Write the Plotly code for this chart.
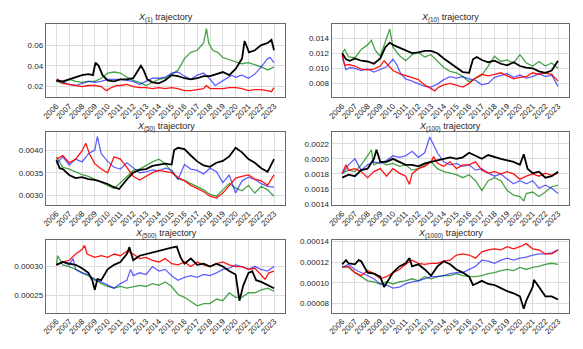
import plotly.graph_objects as go

# -----------------------------
# Data: (year, value) pairs
# -----------------------------
YEARS = [2006, 2007, 2008, 2009, 2010, 2011, 2012, 2013, 2014,
         2015, 2016, 2017, 2018, 2019, 2020, 2021, 2022, 2023]
YEAR_LABELS = [str(y) for y in YEARS]

# X(1)
P1_BLACK = [(2006.0, 0.026), (2006.5, 0.025), (2007.0, 0.027), (2007.5, 0.029), (2008.0, 0.031), (2008.5, 0.032),
            (2008.85, 0.031), (2009.05, 0.043), (2009.3, 0.040), (2009.6, 0.031), (2010.0, 0.026), (2010.5, 0.025),
            (2011.0, 0.027), (2011.5, 0.027), (2012.0, 0.028), (2012.3, 0.034), (2012.6, 0.040), (2012.8, 0.036),
            (2013.1, 0.027), (2013.5, 0.024), (2014.0, 0.023), (2014.5, 0.026), (2015.0, 0.031), (2015.5, 0.030),
            (2016.0, 0.028), (2016.5, 0.027), (2017.0, 0.028), (2017.5, 0.030), (2018.0, 0.030), (2018.5, 0.032),
            (2019.0, 0.034), (2019.5, 0.031), (2020.0, 0.037), (2020.5, 0.047), (2020.7, 0.064), (2021.05, 0.053),
            (2021.5, 0.055), (2022.0, 0.060), (2022.5, 0.062), (2022.8, 0.065), (2023.0, 0.055)]
P1_BLUE = [(2006.0, 0.026), (2006.5, 0.024), (2007.0, 0.022), (2007.5, 0.021), (2008.0, 0.023), (2008.5, 0.025),
           (2009.0, 0.024), (2009.5, 0.025), (2010.0, 0.027), (2010.5, 0.027), (2011.0, 0.027), (2011.5, 0.026),
           (2012.0, 0.025), (2012.5, 0.022), (2013.0, 0.025), (2013.5, 0.028), (2014.0, 0.028), (2014.5, 0.029),
           (2015.0, 0.033), (2015.5, 0.034), (2016.0, 0.030), (2016.5, 0.027), (2017.0, 0.031), (2017.5, 0.033),
           (2018.0, 0.027), (2018.4, 0.021), (2018.8, 0.024), (2019.3, 0.028), (2019.7, 0.031), (2020.0, 0.029),
           (2020.5, 0.031), (2021.0, 0.028), (2021.5, 0.032), (2022.0, 0.039), (2022.5, 0.047), (2022.7, 0.048),
           (2023.0, 0.043)]
P1_GREEN = [(2006.0, 0.025), (2006.5, 0.023), (2007.0, 0.027), (2007.5, 0.025), (2008.0, 0.024), (2008.5, 0.025),
            (2009.0, 0.025), (2009.5, 0.028), (2010.0, 0.033), (2010.5, 0.034), (2011.0, 0.033), (2011.5, 0.029),
            (2012.0, 0.026), (2012.5, 0.024), (2013.0, 0.021), (2013.5, 0.024), (2014.0, 0.027), (2014.5, 0.028),
            (2015.0, 0.032), (2015.5, 0.036), (2016.0, 0.047), (2016.5, 0.053), (2017.0, 0.055), (2017.5, 0.062),
            (2017.72, 0.076), (2017.9, 0.062), (2018.2, 0.055), (2018.6, 0.053), (2019.0, 0.048), (2019.5, 0.046),
            (2020.0, 0.044), (2020.5, 0.042), (2021.0, 0.043), (2021.5, 0.041), (2022.0, 0.039), (2022.5, 0.036),
            (2023.0, 0.039)]
P1_RED = [(2006.0, 0.025), (2006.1, 0.027), (2006.5, 0.023), (2007.0, 0.022), (2007.5, 0.021), (2008.0, 0.020),
          (2008.5, 0.021), (2009.0, 0.021), (2009.5, 0.020), (2009.9, 0.016), (2010.3, 0.019), (2010.7, 0.021),
          (2011.0, 0.021), (2011.5, 0.022), (2012.0, 0.020), (2012.5, 0.019), (2013.0, 0.019), (2013.5, 0.018),
          (2014.0, 0.019), (2014.5, 0.018), (2015.0, 0.019), (2015.5, 0.018), (2016.0, 0.016), (2016.5, 0.016),
          (2017.0, 0.017), (2017.5, 0.018), (2017.7, 0.021), (2018.0, 0.018), (2018.5, 0.018), (2019.0, 0.018),
          (2019.5, 0.019), (2020.0, 0.019), (2020.5, 0.018), (2021.0, 0.016), (2021.5, 0.017), (2022.0, 0.017),
          (2022.5, 0.016), (2022.8, 0.015), (2023.0, 0.019)]

# X(10)
P2_BLACK = [(2006.0, 0.0120), (2006.3, 0.0112), (2006.6, 0.0110), (2007.0, 0.0113), (2007.5, 0.0110), (2008.0, 0.0109),
            (2008.5, 0.0106), (2009.0, 0.0113), (2009.4, 0.0128), (2009.75, 0.0134), (2010.0, 0.0131), (2010.5, 0.0127),
            (2011.0, 0.0124), (2011.5, 0.0120), (2012.0, 0.0121), (2012.5, 0.0123), (2013.0, 0.0123), (2013.5, 0.0120),
            (2014.0, 0.0113), (2014.5, 0.0107), (2015.0, 0.0102), (2015.5, 0.0095), (2016.0, 0.0094), (2016.3, 0.0112),
            (2016.6, 0.0115), (2017.0, 0.0111), (2017.5, 0.0108), (2018.0, 0.0110), (2018.5, 0.0106), (2019.0, 0.0104),
            (2019.5, 0.0108), (2020.0, 0.0103), (2020.5, 0.0101), (2021.0, 0.0100), (2021.5, 0.0096), (2022.0, 0.0094),
            (2022.5, 0.0097), (2023.0, 0.0110)]
P2_GREEN = [(2006.0, 0.0120), (2006.2, 0.0125), (2006.5, 0.0115), (2007.0, 0.0114), (2007.5, 0.0125), (2008.0, 0.0131),
            (2008.3, 0.0137), (2008.6, 0.0124), (2009.0, 0.0116), (2009.4, 0.0135), (2009.75, 0.0152), (2010.0, 0.0128),
            (2010.5, 0.0117), (2011.0, 0.0110), (2011.5, 0.0118), (2012.0, 0.0121), (2012.5, 0.0115), (2013.0, 0.0118),
            (2013.5, 0.0110), (2014.0, 0.0101), (2014.5, 0.0096), (2015.0, 0.0094), (2015.5, 0.0089), (2016.0, 0.0082),
            (2016.5, 0.0087), (2017.0, 0.0091), (2017.5, 0.0103), (2018.0, 0.0116), (2018.5, 0.0109), (2019.0, 0.0111),
            (2019.5, 0.0107), (2020.0, 0.0118), (2020.5, 0.0107), (2021.0, 0.0103), (2021.5, 0.0109), (2022.0, 0.0103),
            (2022.5, 0.0107), (2023.0, 0.0100)]
P2_RED = [(2006.0, 0.0118), (2006.2, 0.0104), (2006.5, 0.0105), (2007.0, 0.0103), (2007.5, 0.0099), (2008.0, 0.0098),
          (2008.5, 0.0099), (2009.0, 0.0103), (2009.3, 0.0110), (2009.6, 0.0104), (2010.0, 0.0097), (2010.5, 0.0093),
          (2011.0, 0.0090), (2011.5, 0.0088), (2012.0, 0.0085), (2012.5, 0.0078), (2013.0, 0.0073), (2013.3, 0.0070),
          (2013.6, 0.0075), (2014.0, 0.0078), (2014.5, 0.0080), (2015.0, 0.0078), (2015.5, 0.0075), (2016.0, 0.0080),
          (2016.5, 0.0087), (2017.0, 0.0092), (2017.5, 0.0090), (2018.0, 0.0092), (2018.5, 0.0094), (2019.0, 0.0090),
          (2019.5, 0.0086), (2020.0, 0.0088), (2020.5, 0.0089), (2021.0, 0.0094), (2021.5, 0.0092), (2022.0, 0.0094),
          (2022.5, 0.0092), (2023.0, 0.0083)]
P2_BLUE = [(2006.0, 0.0116), (2006.3, 0.0098), (2006.6, 0.0101), (2007.0, 0.0100), (2007.5, 0.0097), (2008.0, 0.0099),
           (2008.5, 0.0095), (2009.0, 0.0099), (2009.5, 0.0102), (2010.0, 0.0112), (2010.3, 0.0105), (2010.6, 0.0093),
           (2011.0, 0.0086), (2011.5, 0.0083), (2012.0, 0.0080), (2012.5, 0.0076), (2013.0, 0.0075), (2013.5, 0.0079),
           (2014.0, 0.0085), (2014.5, 0.0089), (2015.0, 0.0087), (2015.5, 0.0089), (2016.0, 0.0086), (2016.5, 0.0084),
           (2017.0, 0.0078), (2017.5, 0.0080), (2018.0, 0.0088), (2018.5, 0.0091), (2019.0, 0.0093), (2019.5, 0.0088),
           (2020.0, 0.0091), (2020.5, 0.0087), (2021.0, 0.0089), (2021.5, 0.0093), (2022.0, 0.0089), (2022.5, 0.0091),
           (2023.0, 0.0076)]

# X(50)
P3_BLACK = [(2006.0, 0.00378), (2006.25, 0.00360), (2006.5, 0.00358), (2007.0, 0.00345), (2007.5, 0.00338),
            (2008.0, 0.00340), (2008.5, 0.00336), (2009.0, 0.00334), (2009.5, 0.00330), (2010.0, 0.00325),
            (2010.5, 0.00318), (2010.9, 0.00314), (2011.5, 0.00335), (2012.0, 0.00350), (2012.5, 0.00356),
            (2013.0, 0.00358), (2013.5, 0.00365), (2014.0, 0.00368), (2014.5, 0.00370), (2015.0, 0.00368),
            (2015.2, 0.00400), (2015.5, 0.00405), (2016.0, 0.00402), (2016.5, 0.00388), (2017.0, 0.00375),
            (2017.5, 0.00366), (2018.0, 0.00363), (2018.5, 0.00372), (2019.0, 0.00376), (2019.5, 0.00386),
            (2020.0, 0.00405), (2020.5, 0.00395), (2021.0, 0.00380), (2021.5, 0.00372), (2022.0, 0.00360),
            (2022.5, 0.00352), (2023.0, 0.00380)]
P3_RED = [(2006.0, 0.00380), (2006.5, 0.00388), (2007.0, 0.00372), (2007.5, 0.00380), (2008.0, 0.00398),
          (2008.3, 0.00415), (2008.6, 0.00390), (2009.0, 0.00370), (2009.5, 0.00358), (2010.0, 0.00350),
          (2010.5, 0.00385), (2011.0, 0.00380), (2011.5, 0.00362), (2012.0, 0.00342), (2012.5, 0.00334),
          (2013.0, 0.00342), (2013.5, 0.00350), (2014.0, 0.00355), (2014.5, 0.00352), (2015.0, 0.00350),
          (2015.5, 0.00340), (2016.0, 0.00332), (2016.5, 0.00322), (2017.0, 0.00315), (2017.5, 0.00308),
          (2018.0, 0.00298), (2018.5, 0.00294), (2019.0, 0.00305), (2019.5, 0.00322), (2020.0, 0.00338),
          (2020.5, 0.00342), (2021.0, 0.00345), (2021.5, 0.00336), (2022.0, 0.00332), (2022.5, 0.00322),
          (2023.0, 0.00345)]
P3_BLUE = [(2006.0, 0.00370), (2006.5, 0.00385), (2007.0, 0.00367), (2007.5, 0.00380), (2008.0, 0.00374),
           (2008.5, 0.00392), (2009.0, 0.00400), (2009.2, 0.00430), (2009.5, 0.00392), (2010.0, 0.00375),
           (2010.5, 0.00362), (2011.0, 0.00358), (2011.5, 0.00372), (2012.0, 0.00360), (2012.5, 0.00350),
           (2013.0, 0.00352), (2013.5, 0.00356), (2014.0, 0.00354), (2014.5, 0.00360), (2015.0, 0.00356),
           (2015.5, 0.00335), (2016.0, 0.00368), (2016.5, 0.00358), (2017.0, 0.00355), (2017.5, 0.00347),
           (2018.0, 0.00360), (2018.5, 0.00352), (2019.0, 0.00328), (2019.5, 0.00345), (2020.0, 0.00305),
           (2020.5, 0.00332), (2021.0, 0.00340), (2021.5, 0.00335), (2022.0, 0.00326), (2022.5, 0.00320),
           (2023.0, 0.00318)]
P3_GREEN = [(2006.0, 0.00385), (2006.5, 0.00362), (2007.0, 0.00358), (2007.5, 0.00352), (2008.0, 0.00346),
            (2008.5, 0.00342), (2009.0, 0.00335), (2009.5, 0.00328), (2010.0, 0.00322), (2010.5, 0.00315),
            (2011.0, 0.00328), (2011.5, 0.00342), (2012.0, 0.00355), (2012.5, 0.00358), (2013.0, 0.00366),
            (2013.5, 0.00374), (2014.0, 0.00380), (2014.5, 0.00370), (2015.0, 0.00352), (2015.5, 0.00336),
            (2016.0, 0.00333), (2016.5, 0.00326), (2017.0, 0.00320), (2017.5, 0.00312), (2018.0, 0.00302),
            (2018.5, 0.00298), (2019.0, 0.00312), (2019.5, 0.00326), (2020.0, 0.00316), (2020.5, 0.00310),
            (2021.0, 0.00322), (2021.5, 0.00305), (2022.0, 0.00320), (2022.5, 0.00312), (2023.0, 0.00298)]

# X(100)
P4_BLACK = [(2006.0, 0.00175), (2006.5, 0.00179), (2007.0, 0.00177), (2007.5, 0.00185), (2008.0, 0.00187),
            (2008.5, 0.00200), (2008.7, 0.00212), (2009.0, 0.00196), (2009.5, 0.00196), (2010.0, 0.00200),
            (2010.5, 0.00196), (2011.0, 0.00192), (2011.5, 0.00192), (2012.0, 0.00190), (2012.5, 0.00194),
            (2013.0, 0.00196), (2013.5, 0.00198), (2014.0, 0.00200), (2014.5, 0.00202), (2015.0, 0.00200),
            (2015.5, 0.00202), (2016.0, 0.00208), (2016.5, 0.00204), (2017.0, 0.00200), (2017.5, 0.00205),
            (2018.0, 0.00202), (2018.5, 0.00200), (2019.0, 0.00198), (2019.5, 0.00196), (2020.0, 0.00192),
            (2020.3, 0.00206), (2020.6, 0.00187), (2021.0, 0.00181), (2021.5, 0.00183), (2022.0, 0.00175),
            (2022.5, 0.00177), (2023.0, 0.00183)]
P4_RED = [(2006.0, 0.00181), (2006.3, 0.00192), (2006.5, 0.00185), (2007.0, 0.00187), (2007.5, 0.00183),
          (2008.0, 0.00175), (2008.5, 0.00183), (2009.0, 0.00187), (2009.5, 0.00177), (2010.0, 0.00187),
          (2010.5, 0.00181), (2011.0, 0.00177), (2011.3, 0.00166), (2011.5, 0.00180), (2012.0, 0.00187),
          (2012.5, 0.00190), (2013.0, 0.00196), (2013.2, 0.00203), (2013.5, 0.00194), (2014.0, 0.00190),
          (2014.5, 0.00196), (2015.0, 0.00187), (2015.5, 0.00192), (2016.0, 0.00192), (2016.5, 0.00196),
          (2017.0, 0.00185), (2017.5, 0.00181), (2018.0, 0.00183), (2018.5, 0.00180), (2019.0, 0.00183),
          (2019.5, 0.00180), (2020.0, 0.00173), (2020.5, 0.00177), (2021.0, 0.00180), (2021.5, 0.00177),
          (2022.0, 0.00181), (2022.5, 0.00178), (2023.0, 0.00181)]
P4_BLUE = [(2006.0, 0.00180), (2006.5, 0.00192), (2007.0, 0.00200), (2007.5, 0.00185), (2008.0, 0.00192),
           (2008.5, 0.00196), (2009.0, 0.00194), (2009.5, 0.00198), (2010.0, 0.00204), (2010.5, 0.00202),
           (2011.0, 0.00204), (2011.5, 0.00210), (2012.0, 0.00202), (2012.5, 0.00208), (2012.9, 0.00229),
           (2013.2, 0.00218), (2013.5, 0.00208), (2014.0, 0.00196), (2014.5, 0.00192), (2015.0, 0.00194),
           (2015.5, 0.00190), (2016.0, 0.00192), (2016.5, 0.00185), (2017.0, 0.00187), (2017.5, 0.00181),
           (2018.0, 0.00177), (2018.5, 0.00180), (2019.0, 0.00173), (2019.5, 0.00167), (2020.0, 0.00171),
           (2020.5, 0.00167), (2021.0, 0.00171), (2021.5, 0.00161), (2022.0, 0.00165), (2022.5, 0.00161),
           (2023.0, 0.00154)]
P4_GREEN = [(2006.0, 0.00181), (2006.5, 0.00185), (2007.0, 0.00183), (2007.5, 0.00192), (2008.0, 0.00204),
            (2008.3, 0.00212), (2008.5, 0.00192), (2009.0, 0.00196), (2009.5, 0.00192), (2010.0, 0.00194),
            (2010.5, 0.00190), (2011.0, 0.00192), (2011.5, 0.00185), (2012.0, 0.00187), (2012.5, 0.00192),
            (2013.0, 0.00196), (2013.5, 0.00187), (2014.0, 0.00183), (2014.5, 0.00181), (2015.0, 0.00179),
            (2015.5, 0.00175), (2016.0, 0.00179), (2016.5, 0.00171), (2017.0, 0.00158), (2017.5, 0.00171),
            (2018.0, 0.00175), (2018.5, 0.00171), (2019.0, 0.00158), (2019.5, 0.00152), (2020.0, 0.00150),
            (2020.3, 0.00144), (2020.5, 0.00154), (2021.0, 0.00156), (2021.5, 0.00150), (2022.0, 0.00156),
            (2022.5, 0.00163), (2023.0, 0.00165)]

# X(500)
P5_BLACK = [(2006.0, 0.000303), (2006.5, 0.000308), (2007.0, 0.000305), (2007.5, 0.000303), (2008.0, 0.000297),
            (2008.5, 0.000289), (2008.8, 0.000276), (2009.0, 0.000259), (2009.2, 0.000278), (2009.5, 0.000276),
            (2010.0, 0.000295), (2010.5, 0.000303), (2011.0, 0.000308), (2011.5, 0.000322), (2011.7, 0.000334),
            (2012.0, 0.000311), (2012.5, 0.000319), (2013.0, 0.000322), (2013.5, 0.000324), (2014.0, 0.000327),
            (2014.5, 0.000330), (2015.0, 0.000333), (2015.4, 0.000335), (2015.7, 0.000316), (2016.0, 0.000305),
            (2016.5, 0.000314), (2017.0, 0.000303), (2017.5, 0.000305), (2018.0, 0.000300), (2018.5, 0.000305),
            (2019.0, 0.000300), (2019.5, 0.000292), (2020.0, 0.000286), (2020.3, 0.000240), (2020.6, 0.000267),
            (2021.0, 0.000289), (2021.3, 0.000292), (2021.6, 0.000276), (2022.0, 0.000273), (2022.5, 0.000267),
            (2023.0, 0.000262)]
P5_RED = [(2006.0, 0.000303), (2006.5, 0.000308), (2007.0, 0.000311), (2007.5, 0.000322), (2008.0, 0.000330),
          (2008.2, 0.000337), (2008.4, 0.000322), (2009.0, 0.000316), (2009.5, 0.000319), (2010.0, 0.000316),
          (2010.5, 0.000322), (2011.0, 0.000319), (2011.5, 0.000327), (2012.0, 0.000322), (2012.5, 0.000314),
          (2013.0, 0.000316), (2013.5, 0.000311), (2014.0, 0.000308), (2014.5, 0.000314), (2015.0, 0.000305),
          (2015.5, 0.000303), (2016.0, 0.000308), (2016.5, 0.000300), (2017.0, 0.000308), (2017.5, 0.000303),
          (2018.0, 0.000300), (2018.5, 0.000305), (2019.0, 0.000308), (2019.5, 0.000303), (2020.0, 0.000300),
          (2020.5, 0.000300), (2021.0, 0.000295), (2021.5, 0.000297), (2022.0, 0.000286), (2022.3, 0.000278),
          (2022.6, 0.000289), (2023.0, 0.000292)]
P5_BLUE = [(2006.0, 0.000303), (2006.5, 0.000308), (2007.0, 0.000303), (2007.3, 0.000314), (2007.5, 0.000295),
           (2008.0, 0.000289), (2008.5, 0.000286), (2009.0, 0.000276), (2009.5, 0.000273), (2010.0, 0.000267),
           (2010.5, 0.000262), (2011.0, 0.000270), (2011.5, 0.000276), (2011.8, 0.000295), (2012.0, 0.000284),
           (2012.5, 0.000289), (2013.0, 0.000286), (2013.5, 0.000300), (2014.0, 0.000292), (2014.5, 0.000295),
           (2015.0, 0.000284), (2015.5, 0.000276), (2016.0, 0.000281), (2016.5, 0.000284), (2017.0, 0.000281),
           (2017.5, 0.000286), (2018.0, 0.000284), (2018.5, 0.000289), (2019.0, 0.000295), (2019.5, 0.000297),
           (2020.0, 0.000303), (2020.5, 0.000300), (2021.0, 0.000295), (2021.5, 0.000300), (2022.0, 0.000295),
           (2022.5, 0.000292), (2023.0, 0.000300)]
P5_GREEN = [(2006.0, 0.000303), (2006.1, 0.000319), (2006.5, 0.000303), (2007.0, 0.000300), (2007.5, 0.000295),
            (2008.0, 0.000289), (2008.5, 0.000284), (2009.0, 0.000278), (2009.5, 0.000270), (2010.0, 0.000265),
            (2010.5, 0.000262), (2011.0, 0.000265), (2011.5, 0.000262), (2012.0, 0.000265), (2012.5, 0.000267),
            (2013.0, 0.000265), (2013.5, 0.000270), (2014.0, 0.000267), (2014.5, 0.000273), (2015.0, 0.000265),
            (2015.5, 0.000251), (2016.0, 0.000246), (2016.5, 0.000238), (2017.0, 0.000231), (2017.5, 0.000235),
            (2018.0, 0.000235), (2018.5, 0.000243), (2019.0, 0.000240), (2019.5, 0.000254), (2020.0, 0.000246),
            (2020.5, 0.000246), (2021.0, 0.000254), (2021.5, 0.000254), (2022.0, 0.000259), (2022.5, 0.000262),
            (2023.0, 0.000257)]

# X(1000)
P6_BLACK = [(2006.0, 0.000118), (2006.3, 0.000122), (2006.5, 0.000119), (2007.0, 0.000118), (2007.3, 0.000122),
            (2007.5, 0.000121), (2008.0, 0.000110), (2008.5, 0.000109), (2009.0, 0.000106), (2009.3, 0.000096),
            (2009.6, 0.000102), (2010.0, 0.000110), (2010.5, 0.000116), (2011.0, 0.000119), (2011.3, 0.000124),
            (2011.5, 0.000116), (2012.0, 0.000118), (2012.5, 0.000113), (2013.0, 0.000107), (2013.5, 0.000116),
            (2014.0, 0.000121), (2014.5, 0.000118), (2015.0, 0.000113), (2015.5, 0.000110), (2016.0, 0.000106),
            (2016.3, 0.000098), (2016.5, 0.000099), (2017.0, 0.000102), (2017.5, 0.000099), (2018.0, 0.000098),
            (2018.5, 0.000095), (2019.0, 0.000092), (2019.5, 0.000090), (2020.0, 0.000087), (2020.3, 0.000075),
            (2020.5, 0.000083), (2021.0, 0.000096), (2021.1, 0.000103), (2021.5, 0.000096), (2022.0, 0.000087),
            (2022.5, 0.000087), (2023.0, 0.000084)]
P6_RED = [(2006.0, 0.000115), (2006.5, 0.000116), (2007.0, 0.000110), (2007.5, 0.000107), (2008.0, 0.000112),
          (2008.5, 0.000109), (2009.0, 0.000104), (2009.5, 0.000106), (2010.0, 0.000110), (2010.5, 0.000113),
          (2011.0, 0.000118), (2011.5, 0.000122), (2012.0, 0.000119), (2012.5, 0.000118), (2013.0, 0.000119),
          (2013.5, 0.000119), (2014.0, 0.000121), (2014.5, 0.000122), (2015.0, 0.000127), (2015.5, 0.000128),
          (2016.0, 0.000127), (2016.5, 0.000124), (2017.0, 0.000130), (2017.5, 0.000132), (2018.0, 0.000133),
          (2018.5, 0.000132), (2019.0, 0.000135), (2019.5, 0.000133), (2020.0, 0.000135), (2020.5, 0.000138),
          (2021.0, 0.000133), (2021.5, 0.000132), (2022.0, 0.000128), (2022.5, 0.000128), (2023.0, 0.000132)]
P6_BLUE = [(2006.0, 0.000115), (2006.5, 0.000118), (2007.0, 0.000113), (2007.5, 0.000110), (2008.0, 0.000107),
           (2008.5, 0.000104), (2009.0, 0.000099), (2009.5, 0.000098), (2010.0, 0.000095), (2010.5, 0.000096),
           (2011.0, 0.000099), (2011.5, 0.000101), (2012.0, 0.000102), (2012.5, 0.000104), (2013.0, 0.000106),
           (2013.5, 0.000106), (2014.0, 0.000107), (2014.5, 0.000109), (2015.0, 0.000110), (2015.5, 0.000110),
           (2016.0, 0.000113), (2016.5, 0.000116), (2017.0, 0.000122), (2017.5, 0.000121), (2018.0, 0.000119),
           (2018.5, 0.000122), (2019.0, 0.000124), (2019.5, 0.000122), (2020.0, 0.000124), (2020.5, 0.000125),
           (2021.0, 0.000127), (2021.5, 0.000128), (2022.0, 0.000128), (2022.5, 0.000129), (2023.0, 0.000132)]
P6_GREEN = [(2006.0, 0.000116), (2006.5, 0.000115), (2007.0, 0.000110), (2007.5, 0.000106), (2008.0, 0.000102),
            (2008.5, 0.000101), (2009.0, 0.000099), (2009.5, 0.000101), (2010.0, 0.000099), (2010.5, 0.000101),
            (2011.0, 0.000102), (2011.5, 0.000104), (2012.0, 0.000102), (2012.5, 0.000106), (2013.0, 0.000104),
            (2013.5, 0.000106), (2014.0, 0.000107), (2014.5, 0.000107), (2015.0, 0.000109), (2015.5, 0.000107),
            (2016.0, 0.000106), (2016.5, 0.000106), (2017.0, 0.000107), (2017.5, 0.000109), (2018.0, 0.000110),
            (2018.5, 0.000112), (2019.0, 0.000113), (2019.5, 0.000112), (2020.0, 0.000115), (2020.5, 0.000113),
            (2021.0, 0.000115), (2021.5, 0.000116), (2022.0, 0.000118), (2022.5, 0.000119), (2023.0, 0.000118)]

# -----------------------------
# Panel config
# -----------------------------
PANELS = [
    ("(1)", [P1_GREEN, P1_BLUE, P1_RED, P1_BLACK], [0.0095, 0.0803], [0.02, 0.04, 0.06], ".2f"),
    ("(10)", [P2_GREEN, P2_BLUE, P2_RED, P2_BLACK], [0.00614, 0.01586], [0.008, 0.010, 0.012, 0.014], ".3f"),
    ("(50)", [P3_GREEN, P3_BLUE, P3_RED, P3_BLACK], [0.00279, 0.00439], [0.0030, 0.0035, 0.0040], ".4f"),
    ("(100)", [P4_GREEN, P4_BLUE, P4_RED, P4_BLACK], [0.00139, 0.00235],
     [0.0014, 0.0016, 0.0018, 0.0020, 0.0022], ".4f"),
    ("(500)", [P5_GREEN, P5_BLUE, P5_RED, P5_BLACK], [0.000219, 0.000346], [0.00025, 0.00030], ".5f"),
    ("(1000)", [P6_GREEN, P6_BLUE, P6_RED, P6_BLACK], [0.0000712, 0.0001412],
     [0.00008, 0.00010, 0.00012, 0.00014], ".5f"),
]
COLORS = ["rgba(0,128,0,0.72)", "rgba(0,0,255,0.62)", "rgba(255,0,0,0.92)", "#000000"]
WIDTHS = [1.3, 1.3, 1.3, 1.8]

W, H = 583, 349
X_DOMAINS = [[35 / W, 283 / W], [331 / W, 577 / W]]
Y_DOMAINS = [[1 - 92.5 / H, 1 - 14 / H], [1 - 207.5 / H, 1 - 130 / H], [1 - 323 / H, 1 - 245.5 / H]]
TITLE_Y = [1 - 8 / H, 1 - 124 / H, 1 - 239 / H]

FONT = "Liberation Sans, Arial, sans-serif"
TEXT_COLOR = "#262626"

# -----------------------------
# Figure
# -----------------------------
fig = go.Figure()
layout = {}
annotations = []

for i, (sub, series, yrange, yticks, yfmt) in enumerate(PANELS):
    n = i + 1
    row, col = i // 2, i % 2
    xa = "x" if n == 1 else f"x{n}"
    ya = "y" if n == 1 else f"y{n}"

    for pts, color, width in zip(series, COLORS, WIDTHS):
        fig.add_trace(go.Scatter(
            x=[p[0] for p in pts],
            y=[p[1] for p in pts],
            mode="lines",
            line=dict(color=color, width=width),
            xaxis=xa, yaxis=ya,
            showlegend=False,
            hoverinfo="skip",
        ))

    common = dict(
        showgrid=True, gridcolor="#dedede", gridwidth=1,
        showline=True, mirror=True, linecolor="#6a6a6a", linewidth=1,
        zeroline=False, ticks="",
        tickfont=dict(family=FONT, size=8, color=TEXT_COLOR),
    )
    layout["xaxis" if n == 1 else f"xaxis{n}"] = dict(
        common,
        domain=X_DOMAINS[col],
        anchor=ya,
        range=[2005.17, 2023.88],
        tickmode="array", tickvals=YEARS, ticktext=YEAR_LABELS,
        tickangle=-45,
    )
    layout["yaxis" if n == 1 else f"yaxis{n}"] = dict(
        common,
        domain=Y_DOMAINS[row],
        anchor=xa,
        range=yrange,
        tickmode="array", tickvals=yticks, tickformat=yfmt,
    )
    annotations.append(dict(
        text=f"<i>X</i><sub>{sub}</sub> trajectory",
        xref="paper", yref="paper",
        x=sum(X_DOMAINS[col]) / 2, y=TITLE_Y[row],
        xanchor="center", yanchor="middle",
        showarrow=False,
        font=dict(family=FONT, size=9, color=TEXT_COLOR),
    ))

fig.update_layout(
    **layout,
    annotations=annotations,
    margin=dict(l=0, r=0, t=0, b=0),
    paper_bgcolor="white",
    plot_bgcolor="white",
)

fig.write_html("out.html")
